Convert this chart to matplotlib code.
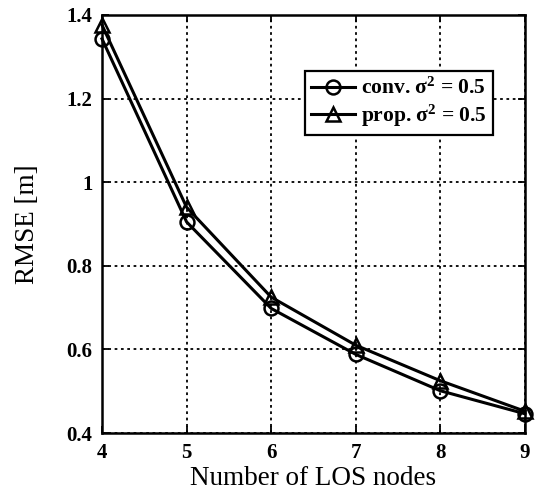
import matplotlib
matplotlib.use("Agg")
import matplotlib.pyplot as plt

nodes = [4, 5, 6, 7, 8, 9]
rmse_conv = [1.343, 0.905, 0.698, 0.588, 0.501, 0.446]
rmse_prop = [1.376, 0.940, 0.725, 0.610, 0.525, 0.452]
yticks = [0.4, 0.6, 0.8, 1.0, 1.2, 1.4]
ytick_labels = ["0.4", "0.6", "0.8", "1", "1.2", "1.4"]

plt.rcParams["font.family"] = ["Liberation Serif", "DejaVu Serif"]
plt.rcParams["mathtext.fontset"] = "custom"
plt.rcParams["mathtext.rm"] = "Liberation Serif:bold"
plt.rcParams["mathtext.it"] = "Liberation Serif:bold"

fig = plt.figure(figsize=(5.46, 4.98), dpi=100)
ax = fig.add_axes([102 / 546, 1 - 433 / 498, (525 - 102) / 546, (433 - 15) / 498])

ax.plot(nodes, rmse_conv, color="black", lw=2.2, marker="o", ms=10,
        mfc="none", mew=1.8, label="conv. σ$^\\mathregular{2}$ = 0.5", clip_on=False, zorder=3)
ax.plot(nodes, rmse_prop, color="black", lw=2.2, marker="^", ms=10,
        mfc="none", mew=1.8, label="prop. σ$^\\mathregular{2}$ = 0.5", clip_on=False, zorder=3)

ax.set_xlim(4, 9)
ax.set_ylim(0.4, 1.4)
ax.set_xticks(nodes)
ax.set_yticks(yticks)
ax.set_yticklabels(ytick_labels)
ax.grid(True, color="black", linestyle=(0, (1.5, 2.0)), linewidth=1.3)
ax.tick_params(direction="in", top=True, right=True, length=5, width=1.3,
               labelsize=15, pad=7)
for lab in ax.get_xticklabels() + ax.get_yticklabels():
    lab.set_fontweight("bold")
for s in ax.spines.values():
    s.set_linewidth(1.8)

ax.set_xlabel("Number of LOS nodes", fontsize=19.5, labelpad=2)
ax.set_ylabel("RMSE [m]", fontsize=19.5, labelpad=19)

leg = ax.legend(loc="upper right", bbox_to_anchor=(0.925, 0.865),
                prop={"size": 15.5, "weight": "bold"},
                frameon=True, fancybox=False, edgecolor="black", framealpha=1,
                handlelength=2.0, handletextpad=0.3, borderpad=0.3, labelspacing=0.15,
                borderaxespad=0.0)
leg.get_frame().set_linewidth(1.6)

fig.savefig("out.png", dpi=100)
